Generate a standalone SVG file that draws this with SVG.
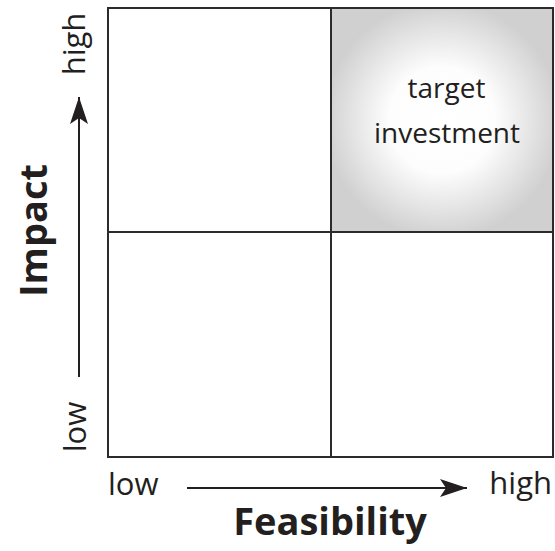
<svg xmlns="http://www.w3.org/2000/svg" width="555" height="551" viewBox="0 0 555 551">
  <style>
    .lbl { font-family: "Open Sans", "Liberation Sans", sans-serif; fill: #231f20; }
    .ax { font-size: 31px; }
    .title { font-size: 38px; font-weight: bold; }
    .q { font-size: 28px; }
    .grid { fill: none; stroke: #2b2b2b; stroke-width: 2; }
    .arrow { stroke: #231f20; stroke-width: 2; fill: none; }
  </style>
  <defs>
    <radialGradient id="glow" gradientUnits="userSpaceOnUse" cx="442" cy="120" r="118">
      <stop offset="0" stop-color="#ffffff"/>
      <stop offset="0.45" stop-color="#fdfdfd"/>
      <stop offset="1" stop-color="#d0d0d1"/>
    </radialGradient>
    <marker id="head" markerWidth="27" markerHeight="18" refX="27" refY="9" orient="auto" markerUnits="userSpaceOnUse">
      <path d="M0,0 L27,9 L0,18 L6,9 Z" fill="#231f20"/>
    </marker>
  </defs>

  <g id="quadrant-target">
    <rect x="331" y="8" width="222" height="224" fill="url(#glow)"/>
    <text class="lbl q" x="446.5" y="98" text-anchor="middle">target</text>
    <text class="lbl q" x="447" y="143" text-anchor="middle">investment</text>
  </g>

  <g id="grid">
    <rect class="grid" x="108" y="8" width="445" height="449"/>
    <line class="grid" x1="331" y1="8" x2="331" y2="457"/>
    <line class="grid" x1="108" y1="232" x2="553" y2="232"/>
  </g>

  <g id="connectors">
    <line class="arrow" x1="79" y1="377" x2="79" y2="97" marker-end="url(#head)"/>
    <line class="arrow" x1="187" y1="488" x2="467" y2="488" marker-end="url(#head)"/>
  </g>

  <g id="y-axis">
    <text class="lbl title" transform="translate(47,230.5) rotate(-90)" text-anchor="middle">Impact</text>
    <text class="lbl ax" transform="translate(85,44) rotate(-90)" text-anchor="middle">high</text>
    <text class="lbl ax" transform="translate(86,427) rotate(-90)" text-anchor="middle">low</text>
  </g>

  <g id="x-axis">
    <text class="lbl ax" x="108" y="495">low</text>
    <text class="lbl ax" x="552" y="494" text-anchor="end">high</text>
    <text class="lbl title" x="330" y="535" text-anchor="middle">Feasibility</text>
  </g>
</svg>
